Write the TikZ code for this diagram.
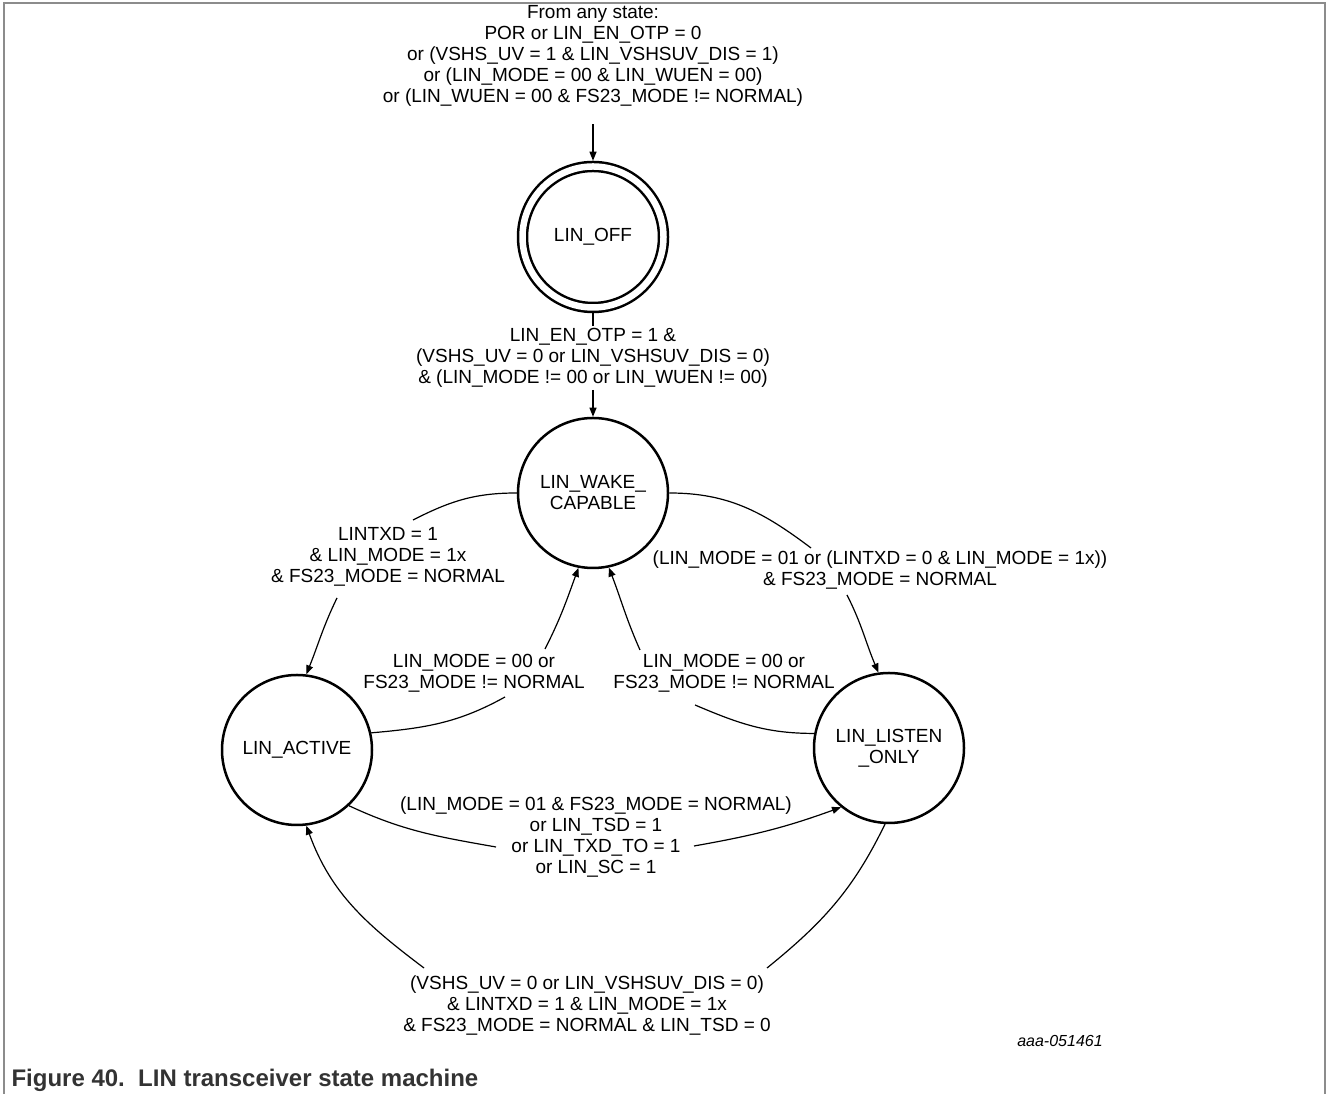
\documentclass[tikz,border=0pt]{standalone}
\usepackage{fontspec}
\setmainfont{Liberation Sans}
\usetikzlibrary{arrows.meta}

\begin{document}
\begin{tikzpicture}[x=1pt,y=1pt]
\tikzset{
  statenode/.style={circle,draw,line width=2.5pt,minimum size=150pt,inner sep=0pt,align=center,font=\fontsize{19}{21}\selectfont},
  offnode/.style={statenode,minimum size=141pt,double,double distance=6.5pt,outer sep=5.75pt},
  condlabel/.style={align=center,inner sep=2pt,font=\fontsize{19}{21}\selectfont},
  trans/.style={-{Triangle[length=9pt,width=7pt]},line width=1.2pt},
  plainline/.style={line width=1.2pt},
  framedge/.style={draw=black!45,line width=1.5pt}
}
\useasboundingbox (0,0) rectangle (1328,1094);
% frame
\draw[framedge] (4,0) -- (4,1091) -- (1325,1091) -- (1325,0);

% states
\node[offnode] (n_off) at (593,857) {LIN\_OFF};
\node[statenode] (n_wake) at (593,601) {LIN\_WAKE\_\\CAPABLE};
\node[statenode] (n_active) at (297,344) {LIN\_ACTIVE};
\node[statenode] (n_listen) at (889,346) {LIN\_LISTEN\\\_ONLY};

% conditions
\node[condlabel] (l_init) at (593,1038.5) {From any state:\\POR or LIN\_EN\_OTP = 0\\or (VSHS\_UV = 1 \& LIN\_VSHSUV\_DIS = 1)\\or (LIN\_MODE = 00 \& LIN\_WUEN = 00)\\or (LIN\_WUEN = 00 \& FS23\_MODE != NORMAL)};
\node[condlabel] (l_on) at (593,736) {LIN\_EN\_OTP = 1 \&\\(VSHS\_UV = 0 or LIN\_VSHSUV\_DIS = 0)\\\& (LIN\_MODE != 00 or LIN\_WUEN != 00)};
\node[condlabel] (l_toact) at (388,537) {LINTXD = 1\\\& LIN\_MODE = 1x\\\& FS23\_MODE = NORMAL};
\node[condlabel] (l_actback) at (474,421) {LIN\_MODE = 00 or\\FS23\_MODE != NORMAL};
\node[condlabel] (l_tolis) at (880,524) {(LIN\_MODE = 01 or (LINTXD = 0 \& LIN\_MODE = 1x))\\\& FS23\_MODE = NORMAL};
\node[condlabel] (l_lisback) at (724,421) {LIN\_MODE = 00 or\\FS23\_MODE != NORMAL};
\node[condlabel] (l_tsd) at (596,257) {(LIN\_MODE = 01 \& FS23\_MODE = NORMAL)\\or LIN\_TSD = 1\\or LIN\_TXD\_TO = 1\\or LIN\_SC = 1};
\node[condlabel] (l_ret) at (587,88) {(VSHS\_UV = 0 or LIN\_VSHSUV\_DIS = 0)\\\& LINTXD = 1 \& LIN\_MODE = 1x\\\& FS23\_MODE = NORMAL \& LIN\_TSD = 0};

\node[font=\fontsize{16}{18}\selectfont\itshape] (n_docid) at (1060,53) {aaa-051461};
\node[anchor=west,text=black!80,font=\fontsize{24}{27}\selectfont\bfseries] (n_caption) at (8,14) {Figure 40.\ \ LIN transceiver state machine};

% gap ends of the curved transitions
\coordinate (c_a1) at (413,574);
\coordinate (c_a2) at (337,496);
\coordinate (c_b1) at (505,397);
\coordinate (c_b2) at (545,445);
\coordinate (c_c1) at (811,546);
\coordinate (c_c2) at (847,499);
\coordinate (c_d1) at (695,389);
\coordinate (c_d2) at (640,444);
\coordinate (c_e1) at (496,247);
\coordinate (c_e2) at (694,248);
\coordinate (c_f1) at (767,126);
\coordinate (c_f2) at (424,126);

\draw[trans] ([yshift=-16pt]l_init.south) -- (n_off);
\draw[plainline] (n_off) -- (l_on);
\draw[trans] (l_on) -- (n_wake);
\draw[trans] (n_wake.180) to[out=180,in=27] (c_a1) (c_a2) to[out=-116,in=68] (n_active.83);
\draw[trans] (n_active.13) to[out=5,in=209] (c_b1) (c_b2) to[out=63,in=-110] (n_wake.-101);
\draw[trans] (n_wake.0) to[out=0,in=143] (c_c1) (c_c2) to[out=-63,in=113] (n_listen.98);
\draw[trans] (n_listen.169) to[out=180,in=-23] (c_d1) (c_d2) to[out=114,in=-69] (n_wake.-78);
\draw[trans] (n_active.-47) to[out=-25,in=170] (c_e1) (c_e2) to[out=10,in=200] (n_listen.231);
\draw[trans] (n_listen.-93) to[out=-116,in=39] (c_f1) (c_f2) to[out=143,in=-70] (n_active.-83);
\end{tikzpicture}
\end{document}
